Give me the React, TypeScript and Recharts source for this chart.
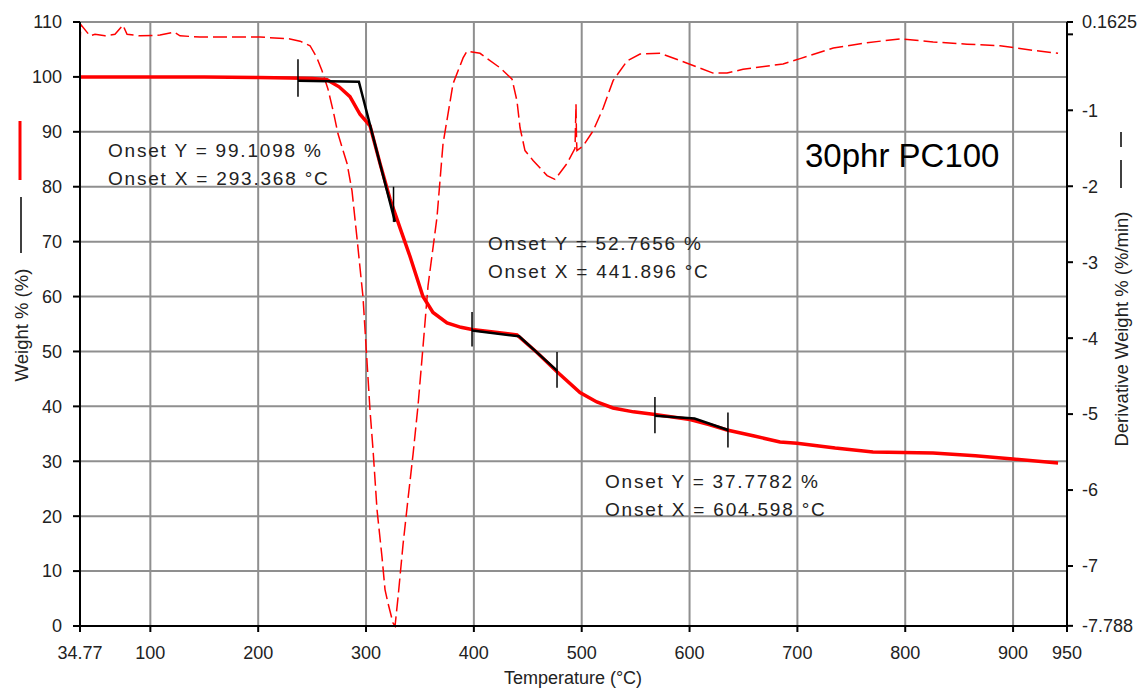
import React from 'react';
import { LineChart, Line, XAxis, YAxis, CartesianGrid, ReferenceLine } from 'recharts';

// temperature (°C) vs weight %
const weightTemp = [34.77, 100, 150, 200, 230, 250, 263.8, 275, 285.1, 294.4, 303.7, 313, 322.2, 331.5, 340.8, 352.8, 362.1, 375.1, 388, 398.3, 420, 440, 458.5, 477.1, 498.4, 514, 529, 548, 567.9, 600.4, 618, 634.7, 660, 683.9, 699.6, 735, 770.1, 825.7, 865, 899.9, 941.7];
const weightPct = [100, 100, 100, 99.9, 99.8, 99.7, 99.5, 98.2, 96.4, 93.2, 91.1, 84.2, 77.8, 72.5, 67.3, 60, 57.1, 55.2, 54.4, 54, 53.5, 53, 49.8, 46.3, 42.5, 40.8, 39.7, 39, 38.5, 37.6, 36.7, 35.7, 34.6, 33.5, 33.3, 32.4, 31.7, 31.5, 31, 30.4, 29.7];

// temperature (°C) vs derivative weight % (%/min)
const derivTemp = [34.77, 35.5, 44, 48.7, 57.9, 67.2, 74.6, 78.4, 90.4, 109, 122, 127.5, 146, 201.7, 229.5, 238.8, 248.1, 254.5, 259.2, 264.7, 269.4, 274, 278.7, 282.4, 287, 291.6, 297.2, 303.7, 306.5, 310.2, 314.8, 317.6, 320.4, 325, 326.9, 329.7, 334.3, 338.9, 343.6, 348.2, 352.8, 357.5, 365.8, 371.4, 380.7, 390, 393.6, 405.7, 424.2, 435.4, 440, 442.8, 447.4, 454.9, 467.9, 475.2, 486.4, 493.8, 494.7, 495.2, 495.6, 501.3, 510.6, 519.9, 529.1, 542.1, 554.1, 572.7, 597.8, 621.8, 634.8, 649.6, 686.7, 702.5, 733.3, 764.6, 795.3, 825.9, 857.3, 887.9, 918.5, 941.7];
const derivRate = [-0.15, 0.13, -0.02, 0.0, -0.02, 0.0, 0.12, 0.0, -0.02, -0.01, 0.03, -0.02, -0.035, -0.035, -0.06, -0.09, -0.15, -0.31, -0.48, -0.72, -1.0, -1.31, -1.53, -1.7, -2.06, -2.68, -3.46, -4.95, -5.47, -6.26, -6.88, -7.31, -7.49, -7.75, -7.79, -7.41, -6.72, -6.12, -5.53, -4.89, -4.12, -3.31, -2.41, -1.44, -0.65, -0.31, -0.22, -0.25, -0.44, -0.59, -0.88, -1.23, -1.53, -1.66, -1.86, -1.91, -1.7, -1.5, -0.92, -1.4, -1.53, -1.47, -1.27, -0.97, -0.61, -0.35, -0.26, -0.25, -0.38, -0.51, -0.51, -0.46, -0.39, -0.32, -0.18, -0.11, -0.06, -0.1, -0.13, -0.15, -0.21, -0.25];

// onset construction lines (temperature, weight %)
const onset1Temp = [236.9, 293.368, 326.9];
const onset1Pct = [99.3, 99.1098, 73.6];
const onset2Temp = [398.3, 441.896, 477.1];
const onset2Pct = [53.8, 52.7656, 46.5];
const onset3Temp = [567.9, 604.598, 635.6];
const onset3Pct = [38.3, 37.7782, 35.7];

// small vertical marks: temperature, low, high
const markTemp = [236.9, 325.5, 398.3, 477.1, 567.9, 635.6];
const markLow = [96.4, 73.6, 50.9, 43.4, 35.1, 32.5];
const markHigh = [103.2, 80.0, 57.2, 49.9, 41.7, 38.9];

const tempTicks = [34.77, 100, 200, 300, 400, 500, 600, 700, 800, 900, 950];
const weightTicks = [0, 10, 20, 30, 40, 50, 60, 70, 80, 90, 100, 110];
const derivTicks = [0.1625, 0, -1, -2, -3, -4, -5, -6, -7, -7.788];

const onsetLabels = [
  { x: 108, y: 157, lines: ['Onset Y = 99.1098 %', 'Onset X = 293.368 °C'] },
  { x: 488, y: 250, lines: ['Onset Y = 52.7656 %', 'Onset X = 441.896 °C'] },
  { x: 605, y: 488, lines: ['Onset Y = 37.7782 %', 'Onset X = 604.598 °C'] },
];

const zip = (xs: number[], ys: number[]) => xs.map((t, i) => ({ t, v: ys[i] }));

const weightData = zip(weightTemp, weightPct);
const derivData = zip(derivTemp, derivRate);
const onsets = [zip(onset1Temp, onset1Pct), zip(onset2Temp, onset2Pct), zip(onset3Temp, onset3Pct)];

const FONT = '"Liberation Sans", Arial, sans-serif';
const tickStyle = { fontSize: 18, fill: '#222', fontFamily: FONT };

export default function App() {
  return (
    <div style={{ position: 'absolute', left: 0, top: 0, width: 1141, height: 689, background: '#fff' }}>
      <LineChart width={1141} height={689} margin={{ top: 22, right: 0, bottom: 23, left: 0 }}>
        <CartesianGrid yAxisId="left" stroke="#8f8f8f" strokeWidth={2} />
        <XAxis
          dataKey="t"
          type="number"
          domain={[34.77, 950]}
          ticks={tempTicks}
          interval={0}
          height={40}
          allowDuplicatedCategory={false}
          tick={tickStyle}
          tickSize={6}
          tickMargin={14}
          stroke="#000"
          strokeWidth={2}
          tickFormatter={(v: number) => String(v)}
        />
        <YAxis
          yAxisId="left"
          type="number"
          domain={[0, 110]}
          ticks={weightTicks}
          interval={0}
          width={80}
          tick={tickStyle}
          tickSize={7}
          tickMargin={11}
          stroke="#000"
          strokeWidth={2}
        />
        <YAxis
          yAxisId="right"
          orientation="right"
          type="number"
          domain={[-7.788, 0.1625]}
          ticks={derivTicks}
          interval={0}
          width={74}
          tick={tickStyle}
          tickSize={6}
          tickMargin={9}
          stroke="#000"
          strokeWidth={2}
          tickFormatter={(v: number) => (v === 0 ? '' : String(v))}
        />
        <Line
          yAxisId="right"
          data={derivData}
          dataKey="v"
          type="linear"
          stroke="#ff0000"
          strokeWidth={1.5}
          strokeDasharray="14 5"
          dot={false}
          isAnimationActive={false}
        />
        <Line
          yAxisId="left"
          data={weightData}
          dataKey="v"
          type="linear"
          stroke="#ff0000"
          strokeWidth={3.5}
          dot={false}
          isAnimationActive={false}
        />
        {onsets.map((d, i) => (
          <Line
            key={i}
            yAxisId="left"
            data={d}
            dataKey="v"
            type="linear"
            stroke="#000"
            strokeWidth={2.5}
            dot={false}
            isAnimationActive={false}
          />
        ))}
        {markTemp.map((t, i) => (
          <ReferenceLine
            key={'m' + i}
            yAxisId="left"
            segment={[{ x: t, y: markLow[i] }, { x: t, y: markHigh[i] }]}
            stroke="#000"
            strokeWidth={1.5}
          />
        ))}
      </LineChart>

      <svg width={1141} height={689} style={{ position: 'absolute', left: 0, top: 0, pointerEvents: 'none' }}>
        {onsetLabels.map((a, i) =>
          a.lines.map((s, j) => (
            <text key={i + '-' + j} x={a.x} y={a.y + j * 28} fontSize={19} letterSpacing={1.8} fill="#222" fontFamily={FONT}>
              {s}
            </text>
          ))
        )}
        <text x={805} y={167} fontSize={33} fill="#000" fontFamily={FONT}>30phr PC100</text>
        <text x={573} y={684} fontSize={18} textAnchor="middle" fill="#222" fontFamily={FONT}>Temperature (°C)</text>
        <line x1={20} y1={121} x2={20} y2={180} stroke="#ff0000" strokeWidth={3} />
        <line x1={21} y1={197} x2={21} y2={253} stroke="#000" strokeWidth={1.5} />
        <text x={0} y={0} fontSize={18.5} textAnchor="middle" fill="#222" fontFamily={FONT} transform="translate(28 325) rotate(-90)">Weight % (%)</text>
        <line x1={1121} y1={132} x2={1121} y2={147} stroke="#000" strokeWidth={1.5} />
        <line x1={1121} y1={160} x2={1121} y2={188} stroke="#000" strokeWidth={1.5} />
        <text x={0} y={0} fontSize={18.5} textAnchor="middle" fill="#222" fontFamily={FONT} transform="translate(1128 329) rotate(-90)">Derivative Weight % (%/min)</text>
      </svg>
    </div>
  );
}
